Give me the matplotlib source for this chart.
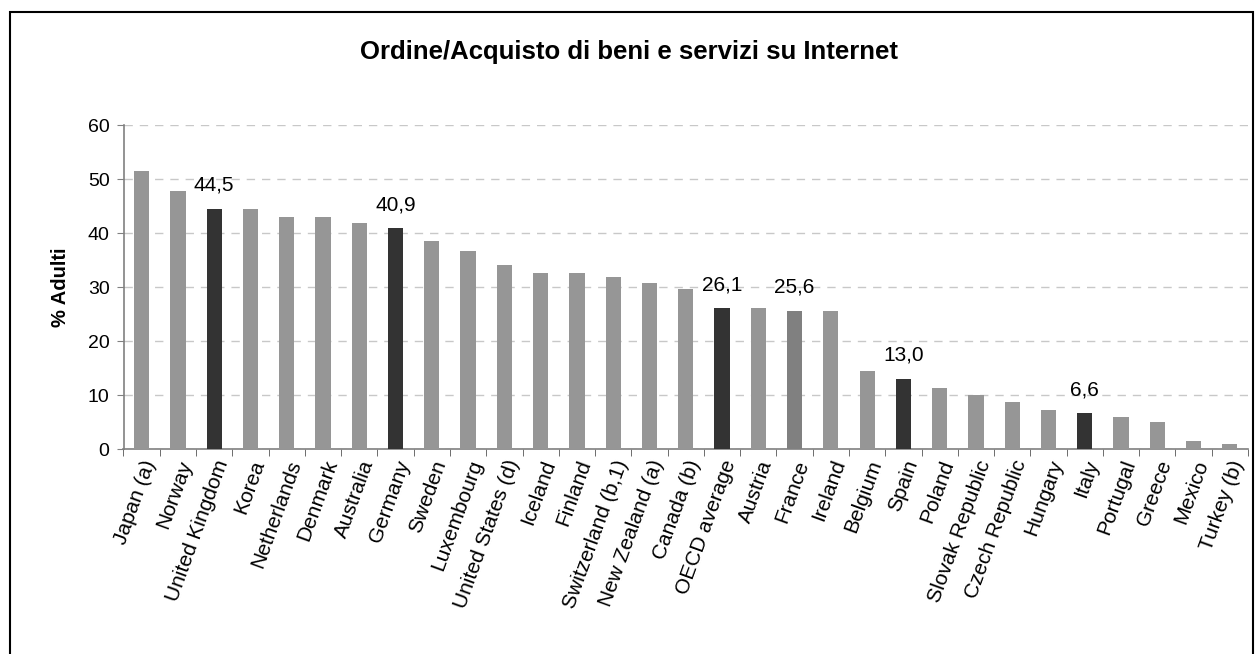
import matplotlib
matplotlib.use("Agg")
import matplotlib.pyplot as plt
from matplotlib.patches import Rectangle

plt.rcParams['font.family'] = ['Liberation Sans', 'DejaVu Sans']

countries = ["Japan (a)", "Norway", "United Kingdom", "Korea", "Netherlands", "Denmark",
             "Australia", "Germany", "Sweden", "Luxembourg", "United States (d)", "Iceland",
             "Finland", "Switzerland (b,1)", "New Zealand (a)", "Canada (b)", "OECD average",
             "Austria", "France", "Ireland", "Belgium", "Spain", "Poland", "Slovak Republic",
             "Czech Republic", "Hungary", "Italy", "Portugal", "Greece", "Mexico", "Turkey (b)"]
values = [51.5, 47.8, 44.5, 44.4, 43.0, 43.0, 41.9, 40.9, 38.6, 36.7, 34.1, 32.6,
          32.6, 31.9, 30.8, 29.7, 26.1, 26.2, 25.6, 25.6, 14.5, 13.0, 11.3, 10.0,
          8.7, 7.2, 6.6, 5.9, 5.0, 1.5, 0.9]
highlight = ["United Kingdom", "Germany", "OECD average", "Spain", "Italy"]
mid_gray = ["France"]
labelled = ["United Kingdom", "Germany", "OECD average", "France", "Spain", "Italy"]

colors = []
for c in countries:
    if c in highlight:
        colors.append("#333333")
    elif c in mid_gray:
        colors.append("#808080")
    else:
        colors.append("#969696")

fig = plt.figure(figsize=(12.58, 6.54), dpi=100)
fig.patches.append(Rectangle((10/1258, -0.1), (1253-10)/1258, 1.1 - 12/654,
                             transform=fig.transFigure, fill=False, edgecolor="black",
                             linewidth=1.5))
ax = fig.add_axes([123.5/1258, 1-449/654, (1248-123.5)/1258, (449-125)/654])

x = list(range(len(countries)))
ax.bar(x, values, width=0.42, color=colors, zorder=3)

ax.set_xlim(-0.5, len(countries) - 0.5)
ax.set_ylim(0, 60)
ax.set_yticks(range(0, 61, 10))
ax.tick_params(axis='y', labelsize=14, length=5, color="#808080", pad=5)
ax.yaxis.grid(True, linestyle=(0, (6, 5)), color="#c8c8c8", linewidth=1, zorder=0)

ax.set_xticks(x)
ax.set_xticklabels(countries, rotation=70, ha='right', rotation_mode='anchor', fontsize=15)
ax.tick_params(axis='x', length=0, pad=6)
ax.set_xticks([i - 0.5 for i in range(len(countries) + 1)], minor=True)
ax.tick_params(axis='x', which='minor', length=5, color="#555555", direction='out')

for s in ["top", "right"]:
    ax.spines[s].set_visible(False)
ax.spines["left"].set_color("#808080")
ax.spines["bottom"].set_color("#808080")
ax.spines["left"].set_linewidth(1.2)
ax.spines["bottom"].set_linewidth(1.2)

for i, (c, v) in enumerate(zip(countries, values)):
    if c in labelled:
        ax.annotate(f"{v:.1f}".replace(".", ","), (i, v), xytext=(0, 13),
                    textcoords='offset points', ha='center', va='baseline', fontsize=15)

ax.set_ylabel("% Adulti", fontsize=14.5, fontweight='bold', labelpad=13)
fig.text(0.5, 1 - 52/654, "Ordine/Acquisto di beni e servizi su Internet",
         ha='center', va='center', fontsize=18.5, fontweight='bold')

fig.savefig("out.png", dpi=100)
